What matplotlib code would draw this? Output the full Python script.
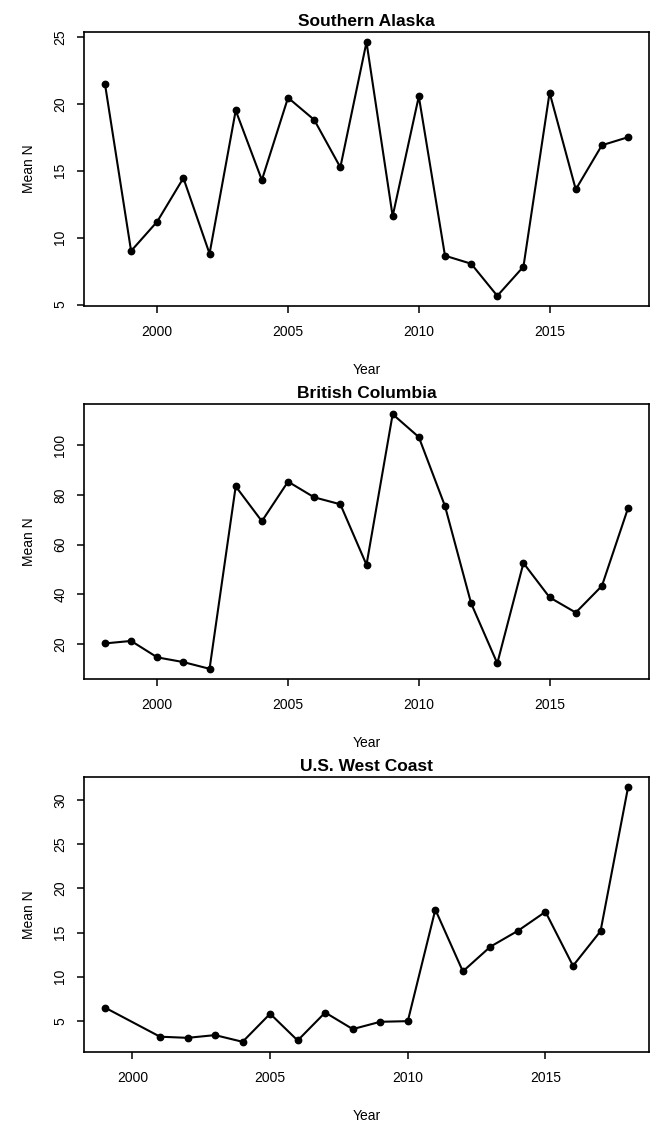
import matplotlib
matplotlib.use("Agg")
import matplotlib.pyplot as plt

plt.rcParams['font.family'] = ['Liberation Sans', 'DejaVu Sans']

# ---- data ----
years_ak = [1998, 1999, 2000, 2001, 2002, 2003, 2004, 2005, 2006, 2007, 2008,
            2009, 2010, 2011, 2012, 2013, 2014, 2015, 2016, 2017, 2018]
mean_ak = [21.5, 9.0, 11.2, 14.45, 8.8, 19.5, 14.3, 20.45, 18.8, 15.25, 24.6,
           11.6, 20.55, 8.65, 8.05, 5.65, 7.83, 20.83, 13.6, 16.9, 17.5]

years_bc = [1998, 1999, 2000, 2001, 2002, 2003, 2004, 2005, 2006, 2007, 2008,
            2009, 2010, 2011, 2012, 2013, 2014, 2015, 2016, 2017, 2018]
mean_bc = [20.3, 21.3, 14.7, 12.8, 10.1, 83.4, 69.4, 85.3, 79.0, 76.2, 51.9,
           112.4, 103.2, 75.5, 36.4, 12.3, 52.6, 38.8, 32.7, 43.4, 74.7]

years_wc = [1999, 2001, 2002, 2003, 2004, 2005, 2006, 2007, 2008, 2009, 2010,
            2011, 2012, 2013, 2014, 2015, 2016, 2017, 2018]
mean_wc = [6.5, 3.2, 3.07, 3.38, 2.62, 5.8, 2.77, 5.94, 4.06, 4.89, 4.96,
           17.6, 10.6, 13.4, 15.2, 17.35, 11.23, 15.16, 31.47]

titles = ["Southern Alaska", "British Columbia", "U.S. West Coast"]
yticks_list = [[5, 10, 15, 20, 25], [20, 40, 60, 80, 100], [5, 10, 15, 20, 25, 30]]
xticks = [2000, 2005, 2010, 2015]

W, H = 656, 1122
fig = plt.figure(figsize=(W / 100, H / 100), dpi=100)

# axes boxes in pixels: (left, top, right, bottom)
boxes = [(84, 32, 649, 306), (84, 404, 649, 679), (84, 777, 649, 1052)]
series = [(years_ak, mean_ak), (years_bc, mean_bc), (years_wc, mean_wc)]


def rpad(lo, hi):
    d = (hi - lo) * 0.04
    return lo - d, hi + d


for (l, t, r, b), (xs, ys), title, yt in zip(boxes, series, titles, yticks_list):
    ax = fig.add_axes([l / W, 1 - b / H, (r - l) / W, (b - t) / H])
    ax.plot(xs, ys, color='black', linewidth=1.5, marker='o', markersize=4.6)
    ax.set_xlim(*rpad(min(xs), max(xs)))
    ax.set_ylim(*rpad(min(ys), max(ys)))
    ax.set_xticks(xticks)
    ax.set_yticks(yt)
    ax.set_yticklabels([str(v) for v in yt], rotation=90, va='center')
    ax.tick_params(axis='both', direction='out', length=5, width=1.1,
                   labelsize=10, colors='black')
    ax.tick_params(axis='x', pad=9)
    ax.tick_params(axis='y', pad=7)
    for s in ax.spines.values():
        s.set_linewidth(1.2)
        s.set_color('black')
    ax.set_title(title, fontsize=12.5, fontweight='bold', pad=4.5)
    ax.set_xlabel("Year", fontsize=10, va='center')
    ax.xaxis.set_label_coords(0.5, -64 / (b - t))
    ax.set_ylabel("Mean N", fontsize=10, va='center')
    ax.yaxis.set_label_coords(-55 / (r - l), 0.5)

fig.savefig("out.png", dpi=100, facecolor='white')
